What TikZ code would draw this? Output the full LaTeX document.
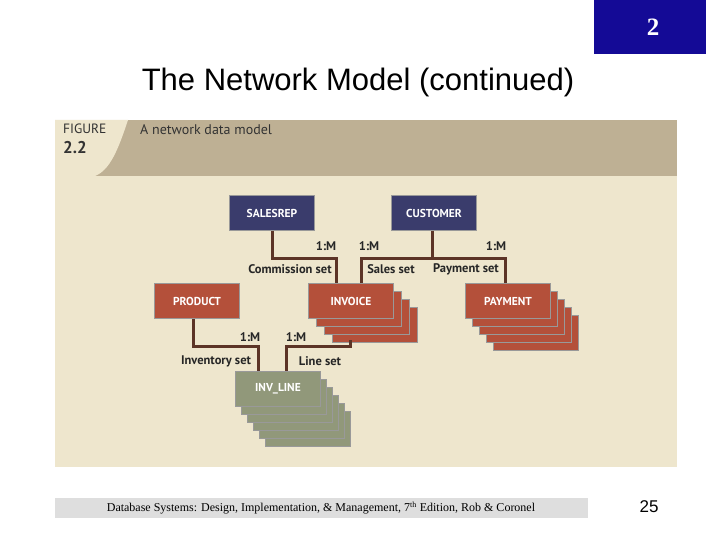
\documentclass[tikz,border=0pt]{standalone}
\usepackage{fontspec}
\setmainfont{Liberation Serif}
\newfontfamily\arialf{Liberation Sans}
\newfontfamily\figf{PT Sans}
\begin{document}
\begin{tikzpicture}[x=1pt,y=-1pt,
  ent/.style={draw=black!40,line width=0.6pt,minimum width=85pt,minimum height=35pt,inner sep=0pt,font=\figf\bfseries\fontsize{11.5}{13}\selectfont,text=white},
  rel/.style={draw=linkc,line width=3pt},
  lab/.style={font=\figf\bfseries\fontsize{12.5}{14}\selectfont,text=black!85,inner sep=1pt}]
\definecolor{navyb}{RGB}{20,10,150}
\definecolor{bgc}{RGB}{238,230,205}
\definecolor{bandc}{RGB}{190,176,148}
\definecolor{bluec}{RGB}{58,60,108}
\definecolor{redc}{RGB}{180,80,58}
\definecolor{grayc}{RGB}{145,152,122}
\definecolor{linkc}{RGB}{92,52,38}
\useasboundingbox (0,0) rectangle (720,540);
\fill[white] (0,0) rectangle (720,540);
\fill[navyb] (594,0) rectangle (706,54);
\node[text=white,font=\bfseries\fontsize{25}{27}\selectfont] (num) at (653,27) {2};
\node[font=\arialf\fontsize{31}{34}\selectfont] (title) at (358,82) {The Network Model (continued)};
% panel
\fill[bgc] (55,120) rectangle (677,467);
\fill[bandc] (55,120) rectangle (677,176);
\fill[bgc] (55,120) -- (128,120) .. controls (118,150) and (110,170) .. (95,176) -- (55,176) -- cycle;
\node[anchor=north west,font=\figf\fontsize{13.5}{14}\selectfont,text=black!80,inner sep=0pt] (fig) at (63,124) {FIGURE};
\node[anchor=north west,font=\figf\bfseries\fontsize{17}{18}\selectfont,text=black!80,inner sep=0pt] (fignum) at (63,141) {2.2};
\node[anchor=north west,font=\figf\fontsize{14}{15}\selectfont,text=black!80,inner sep=0pt] (cap) at (140,124) {A network data model};
% stacks
\foreach \i in {3,2,1} {\node[ent,fill=redc] at (351+8*\i,301+8*\i) {};}
\foreach \i in {4,3,2,1} {\node[ent,fill=redc] at (508+7*\i,301+8*\i) {};}
\foreach \i in {5,4,3,2,1} {\node[ent,fill=grayc] at (278+6*\i,389+8*\i) {};}
\node[ent,fill=bluec] (sr) at (272,213) {SALESREP};
\node[ent,fill=bluec] (cu) at (434,213) {CUSTOMER};
\node[ent,fill=redc] (pr) at (197,301) {PRODUCT};
\node[ent,fill=redc] (inv) at (351,301) {INVOICE};
\node[ent,fill=redc] (pay) at (508,301) {PAYMENT};
\node[ent,fill=grayc] (il) at (278,389) {INV\_LINE};
\coordinate (invb) at (350,340);
% connectors
\draw[rel] (sr.south -| 272,0) |- (336,258) -- (inv.north -| 336,0);
\draw[rel] (cu.south -| 432,0) -- (432,258);
\draw[rel] (inv.north -| 361,0) |- (505,258) -- (pay.north -| 505,0);
\draw[rel] (pr.south -| 193,0) |- (258,346) -- (il.north -| 258,0);
\draw[rel] (invb) |- (286,346) -- (il.north -| 286,0);
\node[lab] (m1) at (326,246) {1:M};
\node[lab] (m2) at (369,246) {1:M};
\node[lab] (m3) at (496,246) {1:M};
\node[lab] (l1) at (290,269) {Commission set};
\node[lab] (l2) at (391,269) {Sales set};
\node[lab] (l3) at (466,269) {Payment set};
\node[lab] (m4) at (250,337) {1:M};
\node[lab] (m5) at (296,337) {1:M};
\node[lab] (l4) at (216,361) {Inventory set};
\node[lab] (l5) at (320,361) {Line set};
% footer
\fill[black!13] (55,498) rectangle (588,518);
\node[font=\fontsize{12}{14}\selectfont] (foot) at (321,508) {Database Systems: Design, Implementation, \& Management, 7\textsuperscript{th} Edition, Rob \& Coronel};
\node[font=\arialf\fontsize{17}{19}\selectfont] (pg) at (649,507) {25};
\end{tikzpicture}
\end{document}
